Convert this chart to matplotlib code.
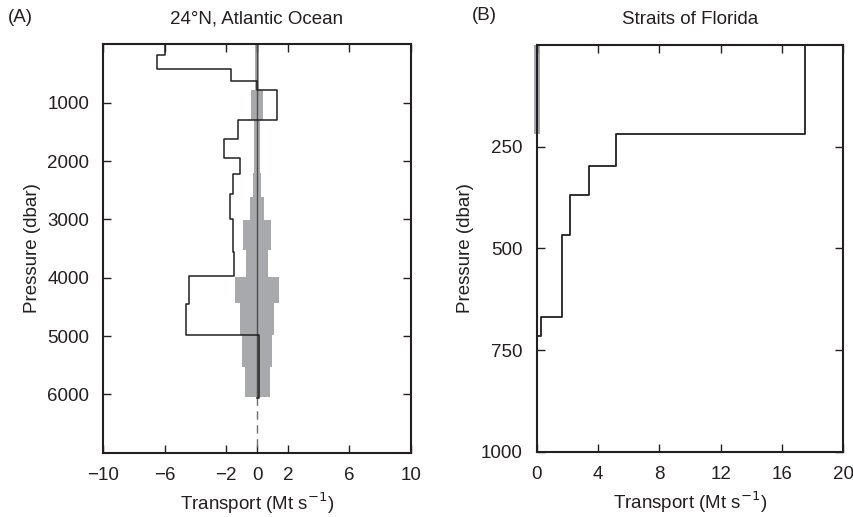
import matplotlib
matplotlib.use("Agg")
import matplotlib.pyplot as plt

plt.rcParams['font.family'] = ['Liberation Sans', 'DejaVu Sans']

# ---------------- Data ----------------
# Panel A: 24N Atlantic Ocean transport per layer (layer boundaries in dbar)
a_bounds = [0, 183, 427, 622, 782, 1296, 1627, 1942, 2222, 2570, 2998, 3554, 3970, 4451, 4982, 6057]
a_transport = [-6.0, -6.5, -1.7, 0.0, 1.28, -1.26, -2.13, -1.11, -1.58, -1.76, -1.58, -1.48, -4.4, -4.62, 0.15]
# Panel A: uncertainty (half width) layers
a_err_bounds = [0, 782, 1296, 2206, 2611, 3010, 3525, 3982, 4439, 4982, 5525, 6050]
a_err = [0.15, 0.4, 0.2, 0.24, 0.43, 0.89, 0.73, 1.41, 1.12, 0.98, 0.81]

# Panel B: Straits of Florida
b_bounds = [0, 220, 297, 368, 467, 670, 716, 1000]
b_transport = [17.5, 5.17, 3.41, 2.15, 1.65, 0.28, 0.0]
b_err_bounds = [0, 220]
b_err = [0.2]

a_xticks = [-10, -6, -2, 0, 2, 6, 10]
a_yticks = [1000, 2000, 3000, 4000, 5000, 6000]
b_xticks = [0, 4, 8, 12, 16, 20]
b_yticks = [250, 500, 750, 1000]

TXT = '#231f20'
GRAY = '#a7a9ac'
FS = 13.5


def step_profile(bounds, vals):
    xs, ys = [], []
    for i, v in enumerate(vals):
        xs += [v, v]
        ys += [bounds[i], bounds[i + 1]]
    return xs, ys


def style(ax):
    for s in ax.spines.values():
        s.set_linewidth(1.5)
        s.set_color(TXT)
    ax.tick_params(direction='in', top=True, right=True, length=6, width=1.0,
                   color=TXT, labelcolor=TXT, labelsize=FS, pad=10)


fig = plt.figure(figsize=(8.54, 5.17), dpi=100)

# ---------------- Panel A ----------------
axA = fig.add_axes([0.121, 0.1244, 0.360, 0.7898])
for i, hw in enumerate(a_err):
    axA.fill_betweenx([a_err_bounds[i], a_err_bounds[i + 1]], -hw, hw,
                      color=GRAY, linewidth=0, zorder=1)
axA.plot([0, 0], [0, a_err_bounds[-1]], color='#4d4d4f', lw=1.0, zorder=2)
axA.plot([0, 0], [a_err_bounds[-1], 7000], color='#6d6e71', lw=1.0,
         dashes=(6, 4), zorder=2)
xs, ys = step_profile(a_bounds, a_transport)
xs.append(0.0)
ys.append(a_bounds[-1])
axA.plot(xs, ys, color=TXT, lw=1.1, zorder=3)
axA.set_xlim(-10, 10)
axA.set_ylim(7000, 0)
axA.set_xticks(a_xticks)
axA.set_yticks(a_yticks)
style(axA)
axA.set_xlabel('Transport (Mt s$^{-1}$)', fontsize=FS, color=TXT, labelpad=5)
axA.set_ylabel('Pressure (dbar)', fontsize=FS, color=TXT, labelpad=5)

# ---------------- Panel B ----------------
axB = fig.add_axes([0.6284, 0.1263, 0.3591, 0.7867])
for i, hw in enumerate(b_err):
    axB.fill_betweenx([b_err_bounds[i], b_err_bounds[i + 1]], -hw, hw,
                      color=GRAY, linewidth=0, zorder=1, clip_on=False)
xs, ys = step_profile(b_bounds, b_transport)
axB.plot(xs, ys, color=TXT, lw=1.3, zorder=3)
axB.set_xlim(0, 20)
axB.set_ylim(1000, 0)
axB.set_xticks(b_xticks)
axB.set_yticks(b_yticks)
style(axB)
axB.set_xlabel('Transport (Mt s$^{-1}$)', fontsize=FS, color=TXT, labelpad=5)
axB.set_ylabel('Pressure (dbar)', fontsize=FS, color=TXT, labelpad=5)

# ---------------- Titles ----------------
fig.text(8 / 854, 1 - 18 / 517, '(A)', fontsize=FS, color=TXT, va='center', ha='left')
fig.text(257 / 854, 1 - 19 / 517, '24\u00b0N, Atlantic Ocean', fontsize=FS, color=TXT,
         va='center', ha='center')
fig.text(472 / 854, 1 - 16 / 517, '(B)', fontsize=FS, color=TXT, va='center', ha='left')
fig.text(690 / 854, 1 - 19 / 517, 'Straits of Florida', fontsize=FS, color=TXT,
         va='center', ha='center')

fig.savefig('out.png', dpi=100)
